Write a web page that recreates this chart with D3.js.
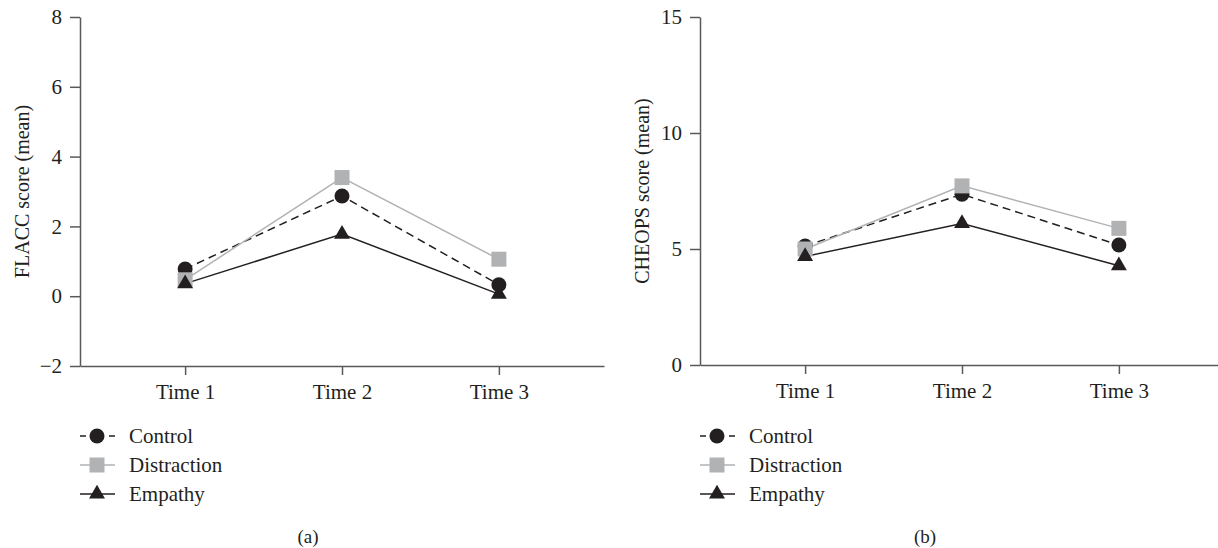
<!DOCTYPE html>
<html>
<head>
<meta charset="utf-8">
<script src="https://cdn.jsdelivr.net/npm/d3@7"></script>
<style>
  body { margin: 0; background: #fff; }
  text { font-family: "Liberation Serif", "Times New Roman", serif; fill: #231f20; }
</style>
</head>
<body>
<div id="chart"></div>
<script>
// data
const times = ["Time 1", "Time 2", "Time 3"];
const groups = ["Control", "Distraction", "Empathy"];

const flaccControl = [0.78, 2.87, 0.33];
const flaccDistraction = [0.47, 3.40, 1.06];
const flaccEmpathy = [0.36, 1.78, 0.06];

const cheopsControl = [5.13, 7.36, 5.17];
const cheopsDistraction = [5.00, 7.72, 5.89];
const cheopsEmpathy = [4.68, 6.10, 4.28];

const flaccTicks = [-2, 0, 2, 4, 6, 8];
const cheopsTicks = [0, 5, 10, 15];

const dark = "#231f20";
const grey = "#b1b2b4";
const axisColor = "#58595b";

const styles = {
  Control: { stroke: dark, dash: "8,5", symbol: d3.symbolCircle, size: 177, fill: dark },
  Distraction: { stroke: grey, dash: null, symbol: d3.symbolSquare, size: 225, fill: grey },
  Empathy: { stroke: dark, dash: null, symbol: d3.symbolTriangle, size: 110, fill: dark }
};

const svg = d3.select("#chart")
  .append("svg")
  .attr("width", 1218)
  .attr("height", 548);

function drawPanel(opt) {
  const g = svg.append("g");

  const x = d3.scalePoint()
    .domain(times)
    .range([opt.left, opt.right])
    .padding(0.67);

  const y = d3.scaleLinear()
    .domain(opt.domain)
    .range([opt.bottom, opt.top]);

  // x axis
  const xa = g.append("g")
    .attr("transform", `translate(0,${opt.bottom})`)
    .call(d3.axisBottom(x).tickSize(9).tickSizeOuter(0).tickPadding(9));
  xa.selectAll("text").style("font-size", "21px");

  // y axis
  const ya = g.append("g")
    .attr("transform", `translate(${opt.left},0)`)
    .call(d3.axisLeft(y).tickValues(opt.ticks).tickSize(10).tickSizeOuter(0).tickPadding(8));
  ya.selectAll("text").style("font-size", "21px");

  g.selectAll(".domain, .tick line")
    .attr("stroke", axisColor)
    .attr("stroke-width", 1.5);

  // y title
  g.append("text")
    .attr("transform", `translate(${opt.left - 51},${(opt.top + opt.bottom) / 2}) rotate(-90)`)
    .attr("text-anchor", "middle")
    .style("font-size", "20px")
    .text(opt.title);

  const line = d3.line()
    .x((d, i) => x(times[i]))
    .y(d => y(d));

  // lines first, markers on top
  groups.forEach((name) => {
    const s = styles[name];
    g.append("path")
      .datum(opt.series[name])
      .attr("d", line)
      .attr("fill", "none")
      .attr("stroke", s.stroke)
      .attr("stroke-width", 1.5)
      .attr("stroke-dasharray", s.dash);
  });

  groups.forEach((name) => {
    const s = styles[name];
    g.selectAll(".pt-" + name)
      .data(opt.series[name])
      .enter().append("path")
      .attr("class", "pt-" + name)
      .attr("transform", (d, i) => `translate(${x(times[i])},${y(d)})`)
      .attr("d", d3.symbol().type(s.symbol).size(s.size))
      .attr("fill", s.fill);
  });

  // legend
  const lg = g.append("g")
    .attr("transform", `translate(${opt.left},436)`);
  groups.forEach((name, i) => {
    const s = styles[name];
    const row = lg.append("g").attr("transform", `translate(0,${i * 29})`);
    row.append("line")
      .attr("x1", 0).attr("x2", 35)
      .attr("stroke", s.stroke)
      .attr("stroke-width", 1.5)
      .attr("stroke-dasharray", name === "Control" ? "6,23" : null);
    row.append("path")
      .attr("transform", "translate(17,0)")
      .attr("d", d3.symbol().type(s.symbol).size(s.size))
      .attr("fill", s.fill);
    row.append("text")
      .attr("x", 49)
      .attr("dy", "0.35em")
      .style("font-size", "21px")
      .text(name);
  });

  // panel caption
  g.append("text")
    .attr("x", opt.captionX)
    .attr("y", 543)
    .attr("text-anchor", "middle")
    .style("font-size", "19px")
    .text(opt.caption);
}

drawPanel({
  left: 80, right: 604, top: 17, bottom: 366,
  domain: [-2, 8], ticks: flaccTicks,
  title: "FLACC score (mean)",
  series: { Control: flaccControl, Distraction: flaccDistraction, Empathy: flaccEmpathy },
  caption: "(a)", captionX: 308
});

drawPanel({
  left: 700, right: 1224, top: 17, bottom: 365,
  domain: [0, 15], ticks: cheopsTicks,
  title: "CHEOPS score (mean)",
  series: { Control: cheopsControl, Distraction: cheopsDistraction, Empathy: cheopsEmpathy },
  caption: "(b)", captionX: 925
});
</script>
</body>
</html>
